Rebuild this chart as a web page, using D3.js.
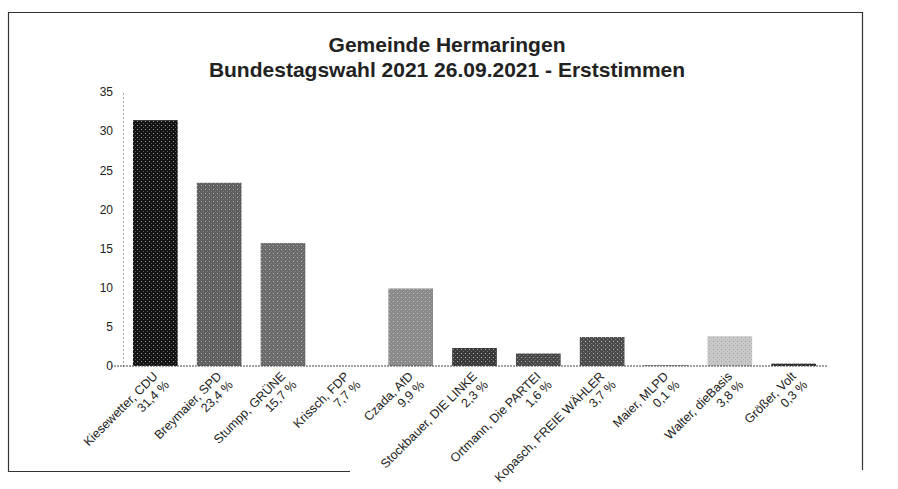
<!DOCTYPE html>
<html>
<head>
<meta charset="utf-8">
<script src="https://cdn.jsdelivr.net/npm/d3@7"></script>
<style>
  body { margin: 0; background: #fff; }
  svg { display: block; font-family: "Liberation Sans", Arial, sans-serif; }
</style>
</head>
<body>
<div id="vis"><svg width="898" height="489"></svg></div>
<script>
// Kandidaten (Name, Partei) und Ergebnis in Prozent
const candidates = [
  "Kiesewetter, CDU", "Breymaier, SPD", "Stumpp, GRÜNE", "Krissch, FDP",
  "Czada, AfD", "Stockbauer, DIE LINKE", "Ortmann, Die PARTEI",
  "Kopasch, FREIE WÄHLER", "Maier, MLPD", "Walter, dieBasis", "Größer, Volt"
];
const percentLabels = ["31,4 %", "23,4 %", "15,7 %", "7,7 %", "9,9 %", "2,3 %",
  "1,6 %", "3,7 %", "0,1 %", "3,8 %", "0,3 %"];
const values = [31.4, 23.4, 15.7, 7.7, 9.9, 2.3, 1.6, 3.7, 0.1, 3.8, 0.3];
// FDP-Balken (gelb) ist in der Vorlage nicht sichtbar
const barColors = ["#141414", "#5e5e5e", "#6a6a6a", "#ffffff", "#8a8a8a",
  "#3a3a3a", "#4a4a4a", "#4c4c4c", "#707070", "#c8c8c8", "#2e2e2e"];
const yTicks = [0, 5, 10, 15, 20, 25, 30, 35];
const titleLines = ["Gemeinde Hermaringen", "Bundestagswahl 2021 26.09.2021  - Erststimmen"];

const svg = d3.select("#vis").select("svg");
const margin = { top: 92, right: 72, bottom: 122, left: 123 };
const width = 898, height = 489;

// Rahmen
const frame = svg.append("g").attr("stroke", "#333").attr("stroke-width", 1.2);
frame.append("line").attr("x1", 8).attr("y1", 12.5).attr("x2", 863).attr("y2", 12.5);
frame.append("line").attr("x1", 8.5).attr("y1", 12).attr("x2", 8.5).attr("y2", 472);
frame.append("line").attr("x1", 862.5).attr("y1", 12).attr("x2", 862.5).attr("y2", 470);
frame.append("line").attr("x1", 8).attr("y1", 471.5).attr("x2", 350).attr("y2", 471.5);

// Titel
svg.append("g")
  .attr("text-anchor", "middle")
  .attr("font-weight", "bold")
  .attr("font-size", 21)
  .attr("fill", "#222")
  .selectAll("text")
  .data(titleLines)
  .join("text")
  .attr("x", 447)
  .attr("y", (d, i) => 52 + i * 25)
  .text(d => d);

const x = d3.scaleBand()
  .domain(candidates)
  .range([margin.left, width - margin.right])
  .paddingInner(0.3)
  .paddingOuter(0.157);

const y = d3.scaleLinear()
  .domain([0, 35])
  .range([height - margin.bottom - 1, margin.top]);

// Halbton-Muster
const defs = svg.append("defs");
barColors.forEach((c, i) => {
  const p = defs.append("pattern")
    .attr("id", "fill" + i)
    .attr("width", 4).attr("height", 4)
    .attr("patternUnits", "userSpaceOnUse");
  p.append("rect").attr("width", 4).attr("height", 4).attr("fill", c);
  if (c !== "#ffffff") {
    p.append("rect").attr("x", 1).attr("y", 1).attr("width", 1).attr("height", 1)
      .attr("fill", i === 9 ? "#777" : "#fff").attr("opacity", 0.55);
    p.append("rect").attr("x", 3).attr("y", 3).attr("width", 1).attr("height", 1)
      .attr("fill", i === 9 ? "#999" : "#bbb").attr("opacity", 0.4);
  }
});

// Balken
svg.append("g")
  .selectAll("rect")
  .data(values)
  .join("rect")
  .attr("x", (d, i) => x(candidates[i]))
  .attr("y", d => y(d))
  .attr("width", x.bandwidth())
  .attr("height", d => y(0) - y(d))
  .attr("fill", (d, i) => `url(#fill${i})`);

// y-Achse
const yAxis = svg.append("g")
  .attr("transform", `translate(${margin.left},0)`)
  .call(d3.axisLeft(y).tickValues(yTicks).tickSize(0).tickPadding(10));
yAxis.select(".domain").attr("stroke", "#555").attr("stroke-dasharray", "1,3");
yAxis.selectAll(".tick text")
  .attr("font-size", 12)
  .attr("fill", "#222");

// Nulllinie
svg.append("line")
  .attr("x1", margin.left - 12).attr("x2", width - margin.right + 2)
  .attr("y1", y(0)).attr("y2", y(0))
  .attr("stroke", "#444")
  .attr("stroke-dasharray", "2,1");

// x-Beschriftung, 45° gedreht, zweizeilig, rechtsbündig
const labels = svg.append("g")
  .attr("font-size", 12.5)
  .attr("fill", "#222")
  .attr("text-anchor", "end")
  .selectAll("g")
  .data(candidates)
  .join("g")
  .attr("transform", d => `translate(${x(d) + x.bandwidth() / 2},${y(0) + 8}) rotate(-45)`);

labels.append("text")
  .attr("dy", "0.35em")
  .text(d => d);

labels.append("text")
  .attr("x", 2)
  .attr("y", 14)
  .attr("dy", "0.35em")
  .text((d, i) => percentLabels[i]);
</script>
</body>
</html>
